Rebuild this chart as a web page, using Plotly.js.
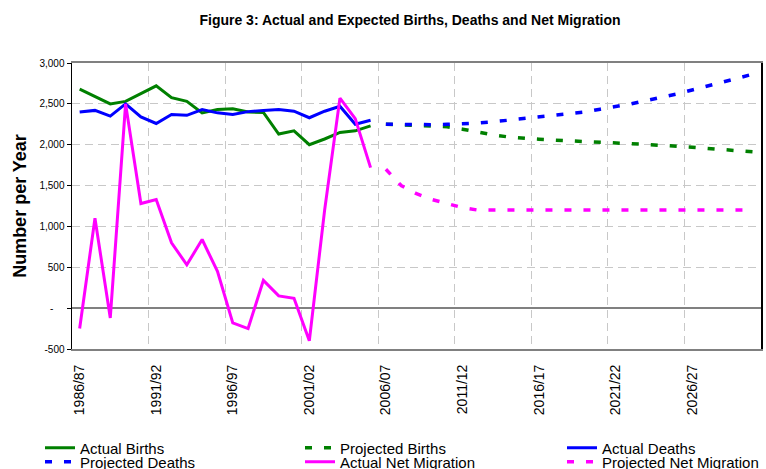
<!DOCTYPE html>
<html>
<head>
<meta charset="utf-8">
<script src="https://cdn.plot.ly/plotly-3.0.1.min.js"></script>
<style>
  html, body { margin: 0; padding: 0; background: #fff; }
  #chart { width: 766px; height: 469px; }
</style>
</head>
<body>
<div id="chart"></div>
<script>
// ---- Data ----
const years = [
  "1986/87","1987/88","1988/89","1989/90","1990/91","1991/92","1992/93","1993/94","1994/95","1995/96",
  "1996/97","1997/98","1998/99","1999/00","2000/01","2001/02","2002/03","2003/04","2004/05","2005/06",
  "2006/07","2007/08","2008/09","2009/10","2010/11","2011/12","2012/13","2013/14","2014/15","2015/16",
  "2016/17","2017/18","2018/19","2019/20","2020/21","2021/22","2022/23","2023/24","2024/25","2025/26",
  "2026/27","2027/28","2028/29","2029/30","2030/31"
];
const actualYears = years.slice(0, 20);
const projectedYears = years.slice(20);

const actualBirths = [2680, 2590, 2500, 2530, 2630, 2720, 2575, 2530, 2390, 2430,
                      2440, 2400, 2395, 2130, 2170, 2000, 2070, 2150, 2170, 2230];
const actualDeaths = [2400, 2420, 2350, 2500, 2340, 2260, 2370, 2360, 2430, 2390,
                      2370, 2405, 2420, 2430, 2410, 2330, 2410, 2470, 2250, 2300];
const actualNetMigration = [-250, 1100, -120, 2500, 1280, 1330, 800, 530, 840, 450,
                            -180, -250, 340, 150, 120, -400, 1200, 2570, 2320, 1720];

const projectedBirths = [2250, 2245, 2240, 2235, 2220, 2190, 2150, 2120, 2095, 2077,
                         2067, 2057, 2050, 2043, 2032, 2022, 2012, 2003, 1994, 1983,
                         1970, 1955, 1940, 1925, 1912];
const projectedDeaths = [2250, 2245, 2245, 2245, 2250, 2255, 2265, 2280, 2300, 2315,
                         2335, 2355, 2380, 2400, 2435, 2465, 2500, 2540, 2575, 2620,
                         2670, 2715, 2770, 2815, 2865];
const projectedNetMigration = [1700, 1500, 1400, 1330, 1280, 1230, 1200, 1200, 1200, 1200,
                               1200, 1200, 1200, 1200, 1200, 1200, 1200, 1200, 1200, 1200,
                               1200, 1200, 1200, 1200, 1200];

const yTickVals = [-500, 0, 500, 1000, 1500, 2000, 2500, 3000];
const yTickText = ["-500", "-\u00a0\u00a0\u00a0\u00a0", "500", "1,000", "1,500", "2,000", "2,500", "3,000"];
const xLabelStep = 5;

// ---- Helpers ----
const idx = (arr) => arr.map(y => years.indexOf(y));
const GREEN = "#008000", BLUE = "#0000FF", MAGENTA = "#FF00FF";
const DOT = "7px,12px";
const FONT = "Liberation Sans, Arial, sans-serif";

const xTickVals = years.map((y, i) => i).filter(i => i % xLabelStep === 0 && i < 44);
const xTickText = xTickVals.map(i => years[i]);
const xBoundaries = xTickVals.filter(i => i > 0).map(i => i - 0.5);

function tr(name, xs, ys, color, dash, legendId) {
  return {
    type: "scatter", mode: "lines", name: name,
    x: idx(xs), y: ys,
    line: { color: color, width: dash ? 3.5 : 3, dash: dash || "solid" },
    legend: legendId, showlegend: true, hoverinfo: "skip"
  };
}

const data = [
  tr("Actual Births", actualYears, actualBirths, GREEN, null, "legend"),
  tr("Projected Births", projectedYears, projectedBirths, GREEN, DOT, "legend2"),
  tr("Actual Deaths", actualYears, actualDeaths, BLUE, null, "legend3"),
  tr("Projected Deaths", projectedYears, projectedDeaths, BLUE, DOT, "legend4"),
  tr("Actual Net Migration", actualYears, actualNetMigration, MAGENTA, null, "legend5"),
  tr("Projected Net Migration", projectedYears, projectedNetMigration, MAGENTA, DOT, "legend6")
];

function leg(xpx, ypx) {
  return {
    x: xpx / 766, y: 1 - ypx / 469, xref: "container", yref: "container",
    xanchor: "left", yanchor: "middle", orientation: "h",
    font: { family: FONT, size: 15, color: "#000" },
    bgcolor: "rgba(0,0,0,0)", borderwidth: 0
  };
}

const layout = {
  width: 766, height: 469,
  margin: { l: 72, r: 5, t: 63, b: 120, pad: 0 },
  paper_bgcolor: "#fff", plot_bgcolor: "#fff",
  font: { family: FONT, color: "#000" },
  title: {
    text: "<b>Figure 3: Actual and Expected Births, Deaths and Net Migration</b>",
    font: { family: FONT, size: 14, color: "#000" },
    xref: "container", x: 410 / 766, xanchor: "center",
    yref: "container", y: 1 - 20 / 469, yanchor: "middle"
  },
  xaxis: {
    type: "linear", range: [-0.5, 44.5], fixedrange: true,
    tickmode: "array", tickvals: xTickVals, ticktext: xTickText,
    tickangle: -90, tickfont: { family: FONT, size: 14, color: "#000" },
    ticks: "", ticklabelstandoff: 8,
    showgrid: false, zeroline: false,
    showline: true, linecolor: "#808080", linewidth: 2, mirror: true,
    minor: {
      tickmode: "array", tickvals: xBoundaries, ticks: "",
      showgrid: true, gridcolor: "#c8c8c8", griddash: "8px,5px", gridwidth: 1
    }
  },
  yaxis: {
    range: [-500, 3000], fixedrange: true,
    tickmode: "array", tickvals: yTickVals, ticktext: yTickText,
    tickfont: { family: FONT, size: 10, color: "#000" },
    ticks: "outside", ticklen: 4, tickcolor: "#000", tickwidth: 1,
    showgrid: true, gridcolor: "#c8c8c8", griddash: "8px,5px", gridwidth: 1,
    zeroline: true, zerolinecolor: "#808080", zerolinewidth: 2,
    showline: true, linecolor: "#000", linewidth: 1.5, mirror: true,
    title: {
      text: "<b>Number per Year</b>",
      font: { family: FONT, size: 18, color: "#000" },
      standoff: 8
    }
  },
  legend: leg(40, 448),
  legend2: leg(300, 448),
  legend3: leg(562, 448),
  legend4: leg(40, 462),
  legend5: leg(300, 462),
  legend6: leg(562, 462),
  showlegend: true
};

Plotly.newPlot("chart", data, layout, { displayModeBar: false, staticPlot: true });
</script>
</body>
</html>
